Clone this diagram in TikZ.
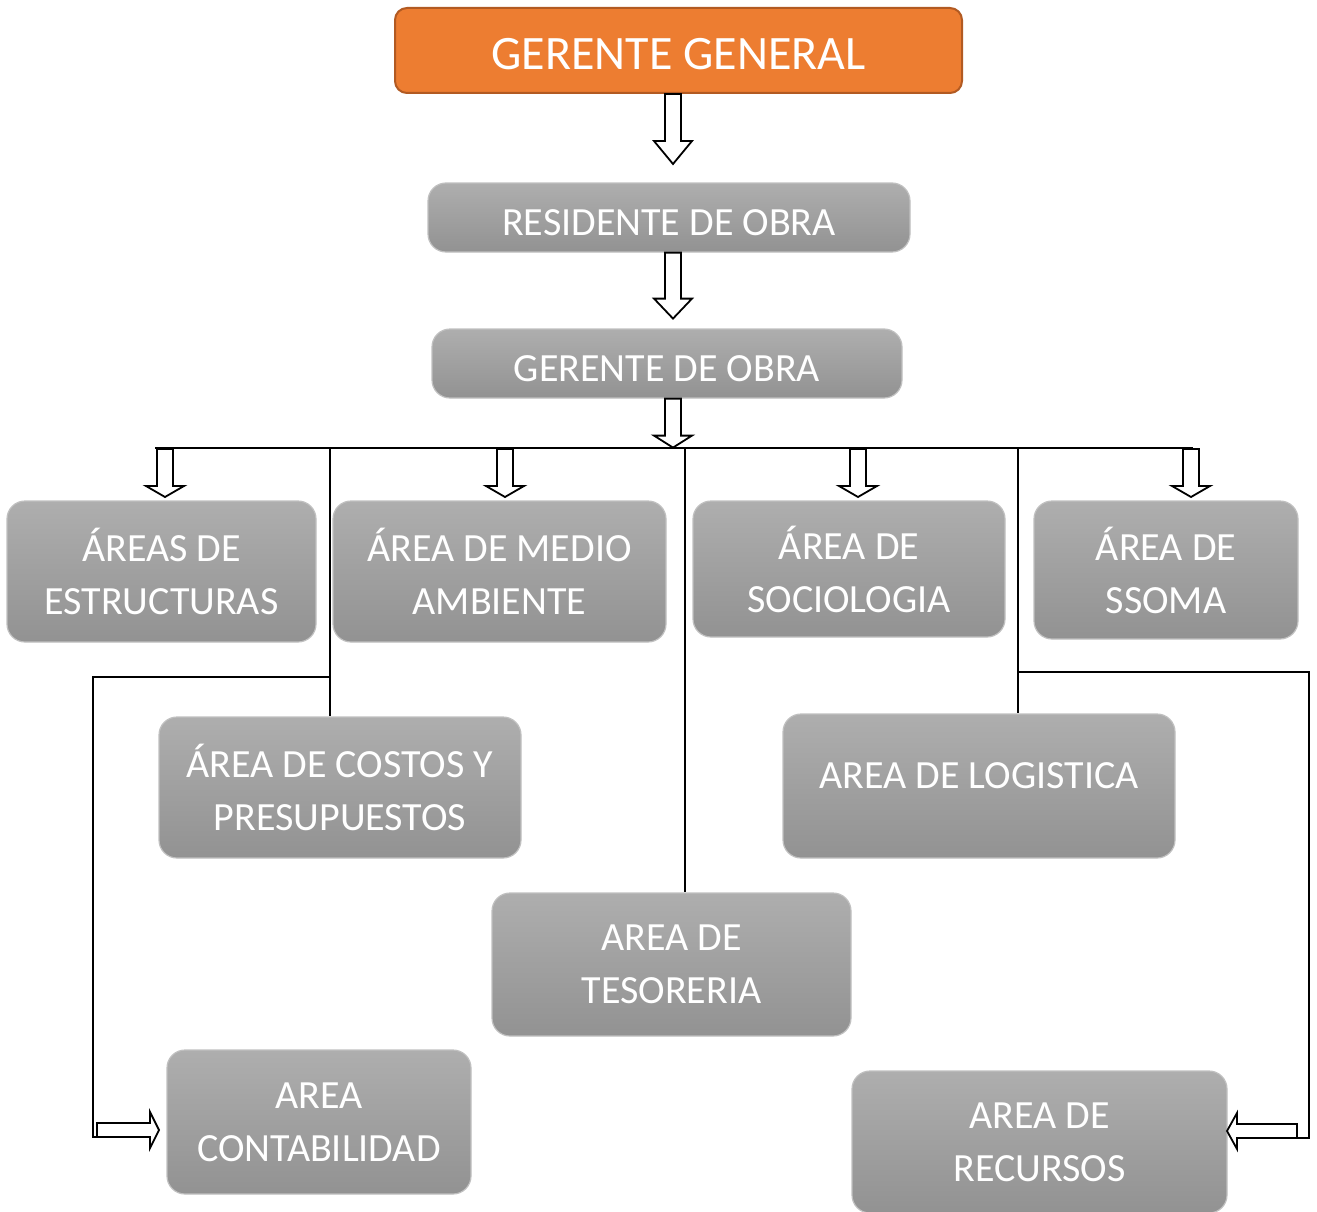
\documentclass[tikz,border=0pt]{standalone}
\usepackage{fontspec}
\setmainfont{Carlito}
\usepackage{xcolor}
\definecolor{naranja}{RGB}{237,125,49}
\definecolor{naranjaborde}{RGB}{178,90,34}
\definecolor{grisclaro}{RGB}{174,174,174}
\definecolor{grisoscuro}{RGB}{146,146,146}
\definecolor{grisborde}{RGB}{192,192,192}

% block arrows: start point, length, head length
\newcommand{\flechaabajo}[3]{%
  \draw[flecha] #1 ++(-8,0) -- ++(0,{#2-#3}) -- ++(-11,0) -- ++(19,#3) -- ++(19,{-(#3)}) -- ++(-11,0) -- ++(0,{-(#2-#3)}) -- cycle;}
\newcommand{\flechader}[3]{%
  \draw[flecha] #1 ++(0,-7) -- ++({#2-#3},0) -- ++(0,-11) -- ++(#3,18) -- ++({-(#3)},18) -- ++(0,-11) -- ++({-(#2-#3)},0) -- cycle;}
\newcommand{\flechaizq}[3]{%
  \draw[flecha] #1 ++(0,-7) -- ++({-(#2-#3)},0) -- ++(0,-11) -- ++({-(#3)},18) -- ++(#3,18) -- ++(0,-11) -- ++({#2-#3},0) -- cycle;}

\begin{document}
\begin{tikzpicture}[x=1pt,y=-1pt,
    caja/.style={rectangle, rounded corners=18pt, draw=grisborde, line width=1.2pt,
      top color=grisclaro, bottom color=grisoscuro, text=white, align=center,
      inner sep=0pt, font=\fontsize{40}{53}\selectfont},
    jefe/.style={rectangle, rounded corners=12pt, draw=naranjaborde, line width=2pt,
      fill=naranja, text=white, inner sep=0pt, font=\fontsize{48}{56}\selectfont},
    linea/.style={line width=2pt},
    flecha/.style={draw=black, fill=white, line width=1.8pt, line join=miter}]

\useasboundingbox (0,0) rectangle (1317,1212);

% Top of the chart
\node[jefe, minimum width=567pt, minimum height=85pt, text height=38pt, text depth=0pt] (gerente) at (678.5,50.5) {GERENTE GENERAL};
\node[caja, minimum width=482pt, minimum height=69pt, text height=35pt, text depth=0pt] (residente) at (669,217.5) {RESIDENTE DE OBRA};
\node[caja, minimum width=470pt, minimum height=69pt, text height=35pt, text depth=0pt] (gerobra) at (667,363.5) {GERENTE DE OBRA};

% First row of areas
\node[caja, minimum width=309pt, minimum height=141pt] (estruc) at (161.5,571.5) {ÁREAS DE\\ESTRUCTURAS};
\node[caja, minimum width=333pt, minimum height=141pt] (medio) at (499.5,571.5) {ÁREA DE MEDIO\\AMBIENTE};
\node[caja, minimum width=312pt, minimum height=136pt] (socio) at (849,569) {ÁREA DE\\SOCIOLOGIA};
\node[caja, minimum width=264pt, minimum height=138pt] (ssoma) at (1166,570) {ÁREA DE\\SSOMA};

% Lower areas
\node[caja, minimum width=362pt, minimum height=141pt] (costos) at (340,787.5) {ÁREA DE COSTOS Y\\PRESUPUESTOS};
\node[caja, minimum width=392pt, minimum height=144pt] (logis) at (979,786) {};
\node[text=white, font=\fontsize{40}{53}\selectfont] at (979,776) {AREA DE LOGISTICA};
\node[caja, minimum width=359pt, minimum height=143pt] (tesor) at (671.5,964.5) {AREA DE\\TESORERIA};
\node[caja, minimum width=304pt, minimum height=144pt] (contab) at (319,1122) {AREA\\CONTABILIDAD};
\node[caja, minimum width=375pt, minimum height=142pt] (recur) at (1039.5,1142) {AREA DE\\RECURSOS};

% Arrows down the chain
\coordinate (eje) at (673,0);
\flechaabajo{(gerente.south -| eje)}{70}{23}
\flechaabajo{(residente.south -| eje)}{66}{20}
\flechaabajo{(gerobra.south -| eje)}{49}{12}

% Bus line
\coordinate (busizq) at (155,448);
\coordinate (busder) at (1193,448);
\draw[linea] (busizq) -- (busder);
\foreach \x in {165,505,858,1191}{
  \flechaabajo{(\x,449)}{48}{11}
}

% Vertical lines
\coordinate (v1) at (330,448);
\coordinate (v2) at (685,448);
\coordinate (v3) at (1018,448);
\draw[linea] (v1) -- (v1 |- costos.north);
\draw[linea] (v2) -- (v2 |- tesor.north);
\draw[linea] (v3) -- (v3 |- logis.north);

% Side branches
\draw[linea] (330,677) -| (93,1137) -- (97,1137);
\flechader{(97,1130)}{62}{9}
\draw[linea] (1018,672) -| (1309,1138) -- (1297,1138);
\flechaizq{(1297,1131)}{70}{10}
\end{tikzpicture}
\end{document}
